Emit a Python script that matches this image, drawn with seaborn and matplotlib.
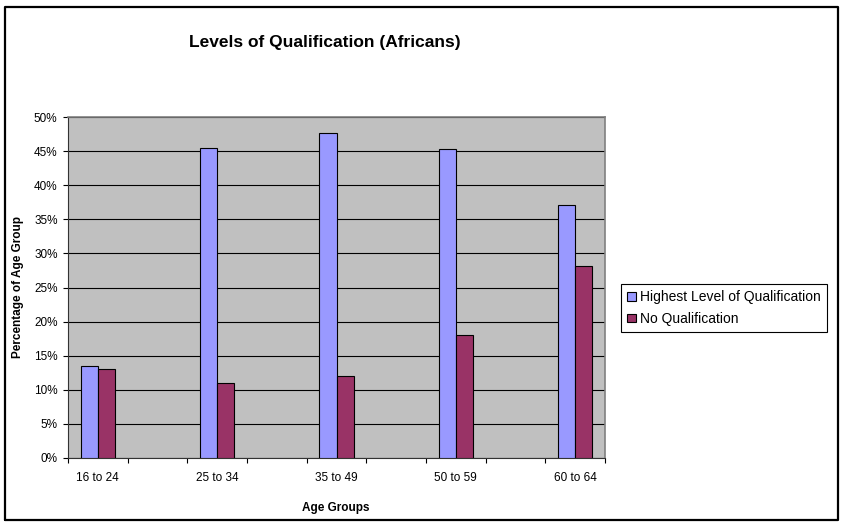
import numpy as np
import pandas as pd
import matplotlib
matplotlib.use("Agg")
import matplotlib.pyplot as plt
from matplotlib.patches import Patch
from matplotlib.ticker import FuncFormatter, FixedLocator
from matplotlib.lines import Line2D
import seaborn as sns

# Survey results: share of each age group (%)
age_groups = ["16 to 24", "25 to 34", "35 to 49", "50 to 59", "60 to 64"]
highest_level = [13.5, 45.5, 47.6, 45.3, 37.1]
no_qualification = [13.0, 11.0, 12.0, 18.1, 28.1]
series_names = ["Highest Level of Qualification", "No Qualification"]
series_colors = ["#9999FF", "#993366"]
y_ticks = [0, 5, 10, 15, 20, 25, 30, 35, 40, 45, 50]

# Category slots: each age group is followed by an empty slot
slots = []
for i, g in enumerate(age_groups):
    slots.append(g)
    if i < len(age_groups) - 1:
        slots.append(f"_gap{i}")

rows = []
for g, h, n in zip(age_groups, highest_level, no_qualification):
    rows.append({"slot": g, "series": series_names[0], "value": h})
    rows.append({"slot": g, "series": series_names[1], "value": n})
df = pd.DataFrame(rows)

sns.set_theme(style="white")
plt.rcParams["font.family"] = ["Liberation Sans", "DejaVu Sans"]
plt.rcParams["text.color"] = "black"

W, H = 841, 522
fig = plt.figure(figsize=(W / 100, H / 100), dpi=100)
ax = fig.add_axes([68 / W, 1 - 458 / H, (605 - 68) / W, (458 - 117) / H])
ax.set_facecolor("#C0C0C0")

sns.barplot(data=df, x="slot", y="value", hue="series", order=slots,
            hue_order=series_names, palette=series_colors, width=0.572,
            gap=0, edgecolor="black", linewidth=0.8, saturation=1,
            legend=False, ax=ax, zorder=3)

ax.set_ylim(0, 50)
ax.set_xlim(-0.5, len(slots) - 0.5)

# y axis: percentage ticks with black major gridlines
ax.yaxis.set_major_locator(FixedLocator(y_ticks))
ax.yaxis.set_major_formatter(FuncFormatter(lambda v, p: f"{v:.0f}%"))
ax.grid(axis="y", color="black", linewidth=0.8)
ax.grid(axis="x", visible=False)
ax.set_axisbelow(True)

# x axis: tick marks between categories, labels at category centres
n = len(slots)
ax.xaxis.set_major_locator(FixedLocator(np.arange(n + 1) - 0.5))
ax.xaxis.set_major_formatter(FuncFormatter(lambda v, p: ""))
ax.set_xticks(np.arange(n), minor=True)
ax.set_xticklabels([s if not s.startswith("_gap") else "" for s in slots],
                   minor=True)
ax.tick_params(axis="x", which="major", direction="out", length=3.5,
               width=0.8, color="black", bottom=True)
ax.tick_params(axis="x", which="minor", length=0, pad=10, labelsize=8.5,
               labelcolor="black", bottom=True)
ax.tick_params(axis="y", which="major", direction="out", length=3.5,
               width=0.8, color="black", pad=4, labelsize=8.5,
               labelcolor="black", left=True)
ax.set_xlabel("")
ax.set_ylabel("")

for side in ["top", "right"]:
    ax.spines[side].set_visible(True)
    ax.spines[side].set_color("#808080")
    ax.spines[side].set_linewidth(1.2)
for side in ["left", "bottom"]:
    ax.spines[side].set_visible(True)
    ax.spines[side].set_color("#333333")
    ax.spines[side].set_linewidth(0.8)

# Titles and axis labels
fig.text(325 / W, 1 - 43 / H, "Levels of Qualification (Africans)",
         ha="center", va="center", fontsize=12.5, fontweight="bold",
         color="black")
fig.text(18 / W, 1 - 287 / H, "Percentage of Age Group", rotation=90,
         ha="center", va="center", fontsize=8.5, fontweight="bold",
         color="black")
fig.text(336 / W, 1 - 508 / H, "Age Groups", ha="center", va="center",
         fontsize=8.5, fontweight="bold", color="black")

# Legend
handles = [Patch(facecolor=c, edgecolor="black", linewidth=0.8)
           for c in series_colors]
leg = fig.legend(handles, series_names, loc="upper left",
                 bbox_to_anchor=(621 / W, 1 - 284 / H), borderaxespad=0,
                 fontsize=10, handlelength=0.6, handleheight=0.6,
                 handletextpad=0.3, labelspacing=0.55, borderpad=0.45,
                 frameon=True, fancybox=False, framealpha=1,
                 edgecolor="black")
leg.get_frame().set_linewidth(0.8)
for t in leg.get_texts():
    t.set_color("black")

# Chart area border
fig.add_artist(Line2D([5 / W, 5 / W, 838 / W, 838 / W, 5 / W],
                      [1 - 520 / H, 1 - 7 / H, 1 - 7 / H, 1 - 520 / H,
                       1 - 520 / H],
                      transform=fig.transFigure, color="black", linewidth=1.6))

fig.savefig("out.png", dpi=100)
